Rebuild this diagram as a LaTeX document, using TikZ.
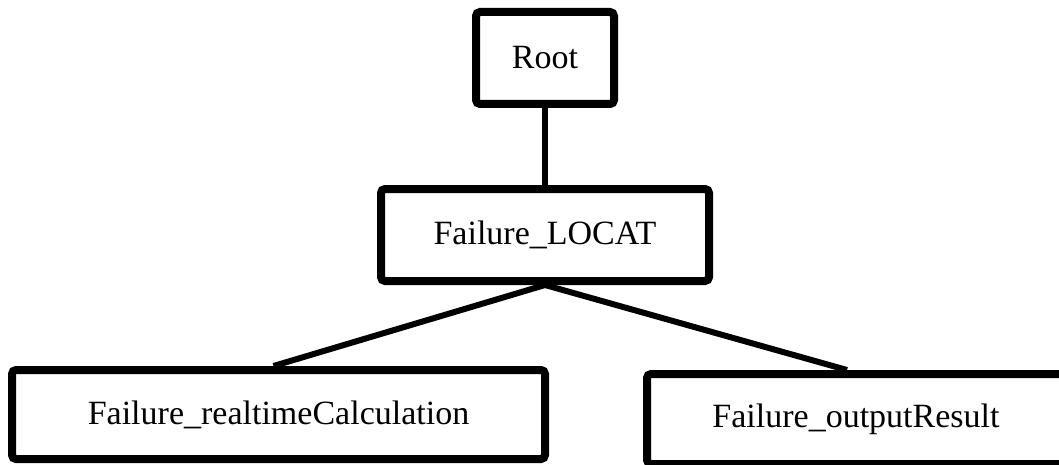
\documentclass[tikz,border=0pt]{standalone}
\usepackage{fontspec}
\setmainfont{Liberation Serif}
\begin{document}
\begin{tikzpicture}[x=0.5pt,y=-0.5pt,
	box/.style={draw, line width=4pt, rounded corners=2pt, inner sep=0pt,
		font=\fontsize{17}{20}\selectfont},
	link/.style={line width=3pt}]

	\useasboundingbox (0,0) rectangle (1059,465);

	\node at (545,58) [box, minimum width=69pt, minimum height=46pt] (root) {Root};
	\node at (545,235) [box, minimum width=164pt, minimum height=46pt] (locat) {Failure\_LOCAT};
	\node at (278.5,414.5) [box, minimum width=266.5pt, minimum height=44.5pt] (calc) {Failure\_realtimeCalculation};
	\node at (856,419) [box, minimum width=209pt, minimum height=45pt] (output) {Failure\_outputResult};

	\draw[link] (root.south) -- (locat.north);
	\draw[link] (locat.south) -- ([xshift=-2.5pt]calc.north);
	\draw[link] (locat.south) -- ([xshift=-4.5pt]output.north);
	\end{tikzpicture}
\end{document}
